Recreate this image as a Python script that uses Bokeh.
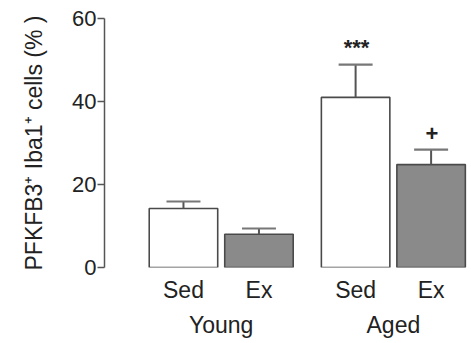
from bokeh.plotting import figure
from bokeh.models import Range1d, FixedTicker, LinearAxis
from bokeh.core.properties import value
from bokeh.embed import file_html
from bokeh.resources import INLINE

groups = ["Young", "Aged"]
conditions = ["Sed", "Ex"]
means = [14.2, 8.0, 41.0, 24.8]
errors = [1.7, 1.4, 7.9, 3.6]
marks = ["", "", "***", "+"]
y_ticks = [0, 20, 40, 60]
y_label = "PFKFB3⁺ Iba1⁺ cells (% )"

FONT = "Liberation Sans"
TXT = "#222222"
sub_step = 25
group_step = 57
bar_w = 0.907 * sub_step
cap_w = 0.45 * sub_step

xs, fills, sub_labels = [], [], {}
for gi, g in enumerate(groups):
    for ci, c in enumerate(conditions):
        x = gi * group_step + ci * sub_step
        xs.append(x)
        sub_labels[x] = c
        fills.append("#ffffff" if c == "Sed" else "#8a8a8a")
group_centers = {gi * group_step + sub_step * (len(conditions) - 1) / 2: g
                 for gi, g in enumerate(groups)}

tops = [m + e for m, e in zip(means, errors)]

p = figure(width=471, height=343, output_backend="svg", toolbar_location=None,
           x_range=Range1d(-1.046 * sub_step, 3.815 * sub_step),
           y_range=Range1d(0, 60),
           x_axis_location=None, min_border_left=104, min_border_right=0,
           min_border_top=18, min_border_bottom=76)
p.outline_line_color = None
p.grid.grid_line_color = None

# bars
p.vbar(x=xs, top=means, bottom=0, width=bar_w, fill_color=fills,
       line_color="#4a4a4a", line_width=1.6)
# error bars
p.segment(x0=xs, y0=means, x1=xs, y1=tops, line_color="#555555", line_width=2)
p.segment(x0=[x - cap_w / 2 for x in xs], y0=tops,
          x1=[x + cap_w / 2 for x in xs], y1=tops,
          line_color="#777777", line_width=2.2)

# significance marks
p.text(x=[x + 0.3 for x in xs], y=[t + 4.0 for t in tops], text=marks,
       text_align="center", text_baseline="alphabetic", text_font=value(FONT),
       text_font_size="22px", text_font_style="bold", text_color=TXT)

def cat_axis(labels, standoff):
    a = LinearAxis(ticker=FixedTicker(ticks=list(labels.keys())),
                   major_label_overrides={k: v for k, v in labels.items()})
    a.axis_line_color = None
    a.major_tick_line_color = None
    a.minor_tick_line_color = None
    a.major_tick_out = 0
    a.major_tick_in = 0
    a.major_label_standoff = standoff
    a.major_label_text_font = FONT
    a.major_label_text_font_size = "23px"
    a.major_label_text_color = TXT
    return a

p.add_layout(cat_axis(sub_labels, 9), "below")
p.add_layout(cat_axis(group_centers, 6), "below")

ax = p.yaxis[0]
ax.ticker = FixedTicker(ticks=y_ticks)
ax.minor_tick_line_color = None
ax.major_tick_out = 7
ax.major_tick_in = 0
ax.major_tick_line_color = "#555555"
ax.major_tick_line_width = 1.5
ax.axis_line_color = "#555555"
ax.axis_line_width = 1.5
ax.major_label_text_font = FONT
ax.major_label_text_font_size = "22px"
ax.major_label_text_color = TXT
ax.major_label_standoff = 1
ax.axis_label = y_label
ax.axis_label_text_font = FONT
ax.axis_label_text_font_size = "23px"
ax.axis_label_text_font_style = "normal"
ax.axis_label_text_color = TXT
ax.axis_label_standoff = 22

open("out.html", "w").write(file_html(p, INLINE))
